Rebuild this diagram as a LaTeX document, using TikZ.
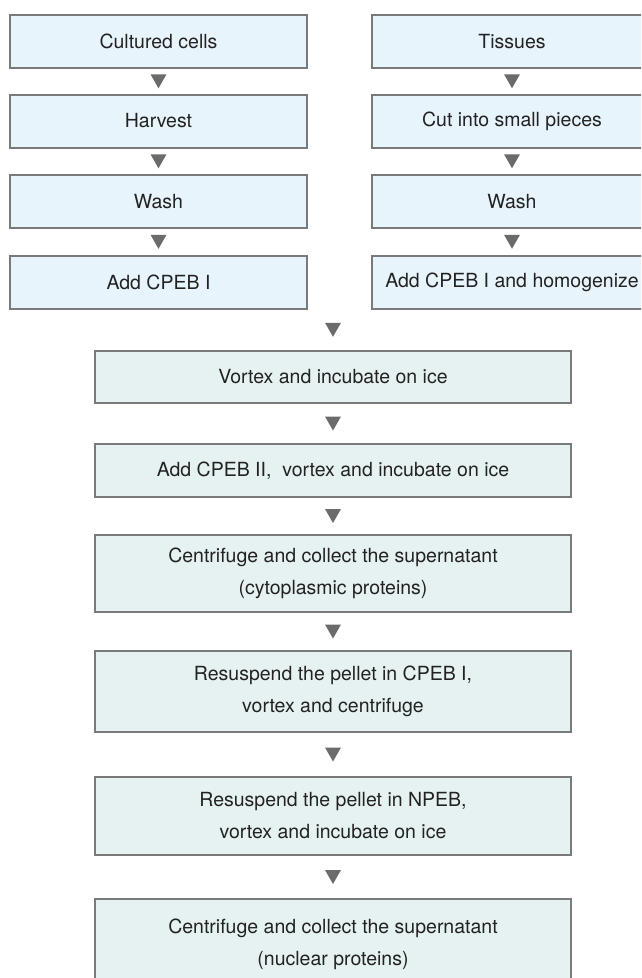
\documentclass[tikz,border=0pt]{standalone}
\usepackage{fontspec}
\setmainfont{TeX Gyre Heros}
\usetikzlibrary{calc}

\definecolor{frame}{HTML}{7A7A7A}
\definecolor{upfill}{HTML}{E8F4FC}
\definecolor{lowfill}{HTML}{E6F2F2}
\definecolor{tipgray}{HTML}{6B6B6B}
\definecolor{ink}{HTML}{222222}

\tikzset{
  box/.style={draw=frame,line width=2pt,text=ink,align=center,inner sep=0pt,
    font=\fontsize{19.5}{32}\selectfont},
  upbox/.style={box,fill=upfill,minimum height=53pt},
  lowbox/.style={box,fill=lowfill,minimum width=476pt},
}
% small filled down triangle between two steps
\newcommand\steptip[1]{\fill[tipgray] ($#1$) +(-8,-7) -- +(8,-7) -- +(0,7) -- cycle;}

\begin{document}
\begin{tikzpicture}[x=1pt,y=-1pt]
  \useasboundingbox (0,0) rectangle (641,978);
  \clip (0,0) rectangle (641,978);

  % two starting columns
  \node[upbox,minimum width=297pt] (cells) at (158.5,41.5) {Cultured cells};
  \node[upbox,minimum width=297pt] (harvest) at (158.5,121) {Harvest};
  \node[upbox,minimum width=297pt] (washL) at (158.5,201.5) {Wash};
  \node[upbox,minimum width=297pt] (addL) at (158.5,282) {Add CPEB I};

  \node[upbox,minimum width=280pt] (tissue) at (512,41.5) {Tissues};
  \node[upbox,minimum width=280pt] (cut) at (512,121) {Cut into small pieces};
  \node[upbox,minimum width=280pt] (washR) at (512,201.5) {Wash};
  \node[upbox,minimum width=280pt] (addR) at (512,282) {Add CPEB I and homogenize};

  % common steps
  \node[lowbox,minimum height=52pt] (vortex) at (333,377) {Vortex and incubate on ice};
  \node[lowbox,minimum height=53pt] (cpeb2) at (333,470.5) {Add CPEB II,\ \ vortex and incubate on ice};
  \node[lowbox,minimum height=77pt] (cyto) at (333,573.5) {Centrifuge and collect the supernatant\\(cytoplasmic proteins)};
  \node[lowbox,minimum height=81pt] (resusA) at (333,691.5) {Resuspend the pellet in CPEB I,\\vortex and centrifuge};
  \node[lowbox,minimum height=78pt] (resusB) at (333,816) {Resuspend the pellet in NPEB,\\vortex and incubate on ice};
  \node[lowbox,minimum height=90pt] (nuc) at (333,944) {Centrifuge and collect the supernatant\\(nuclear proteins)};

  \foreach \a/\b in {cells/harvest,harvest/washL,washL/addL,
                     tissue/cut,cut/washR,washR/addR,
                     vortex/cpeb2,cpeb2/cyto,cyto/resusA,resusA/resusB,resusB/nuc}
    {\steptip{(\a.south)!.5!(\b.north)}}
  \steptip{(vortex.north)!.5!(vortex.north |- addL.south)}
\end{tikzpicture}
\end{document}
